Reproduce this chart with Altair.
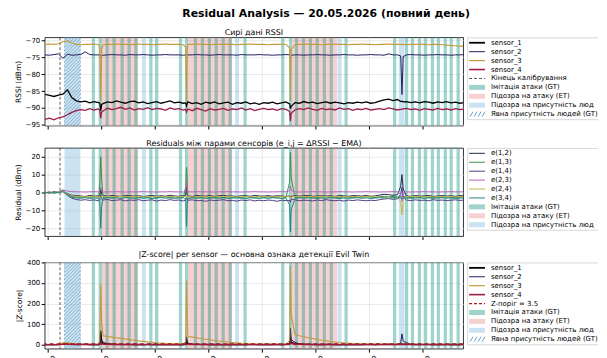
import altair as alt
import pandas as pd

FONT = "DejaVu Sans"

# ---------------- data ----------------
# samples every 15 min (hours after 00:00, 20.05.2026) + extra samples around the events
T_START, T_STEP = -0.15, 0.25
SPIKE_T = [2.92, 2.97, 3.02, 7.73, 7.78, 7.82, 13.56, 13.64, 19.78, 19.92]

SENSORS = ["sensor_1", "sensor_2", "sensor_3", "sensor_4"]
SENSOR_COLORS = ["#000000", "#241a5e", "#c49a3a", "#9b1d4a"]
SENSOR_WIDTHS = [1.3, 1.0, 1.1, 1.3]

RSSI = {
    "sensor_1": [
        -86.0, -86.3, -86.6, -86.2, -85.9, -84.6, -86.9, -87.9, -88.2, -88.0,
        -88.5, -88.1, -88.4, -88.7, -88.2, -88.4, -87.9, -88.3, -88.6, -88.1,
        -88.0, -88.5, -88.2, -88.7, -88.4, -88.1, -88.6, -88.3, -87.9, -88.5,
        -88.3, -88.6, -88.2, -88.7, -88.4, -88.9, -88.3, -88.6, -88.2, -88.8,
        -88.5, -88.3, -88.9, -88.4, -88.6, -88.2, -88.8, -88.5, -88.9, -88.4,
        -88.6, -88.3, -88.8, -88.5, -88.2, -90.2, -88.4, -88.6, -88.1, -88.5,
        -88.3, -88.7, -88.4, -88.2, -88.6, -88.3, -88.5, -88.8, -88.4, -88.6,
        -88.3, -88.5, -88.2, -88.6, -88.4, -88.0, -87.6, -87.4, -87.8, -87.5,
        -88.0, -88.1, -88.4, -88.2, -88.5, -88.1, -88.3, -88.6, -88.2, -88.4,
        -88.1, -88.5, -88.3, -88.6, -88.4],
    "sensor_2": [
        -74.3, -74.4, -74.2, -74.0, -75.3, -74.1, -74.4, -74.3, -74.2, -73.4,
        -74.2, -74.3, -74.3, -74.4, -74.3, -74.2, -74.3, -74.3, -74.4, -74.2,
        -74.3, -74.3, -74.2, -74.3, -74.4, -74.3, -74.3, -74.2, -74.3, -74.3,
        -74.3, -74.4, -74.3, -74.3, -74.2, -74.3, -74.3, -74.4, -74.3, -74.2,
        -74.3, -74.3, -74.3, -74.4, -74.2, -74.3, -74.3, -74.3, -74.2, -74.3,
        -74.3, -74.4, -74.3, -74.3, -74.2, -74.5, -74.3, -74.3, -74.4, -74.3,
        -74.3, -74.2, -74.3, -74.3, -74.4, -74.3, -74.3, -74.2, -74.3, -74.3,
        -74.4, -74.3, -74.3, -74.2, -74.3, -74.3, -74.4, -74.0, -74.3, -74.3,
        -86.0, -74.3, -74.2, -74.3, -74.3, -74.4, -74.3, -74.3, -74.2, -74.3,
        -74.3, -74.4, -74.3, -74.3, -74.2],
    "sensor_3": [
        -71.2, -71.1, -71.2, -71.0, -70.4, -70.2, -70.8, -71.2, -71.3, -71.2,
        -71.2, -71.1, -71.2, -71.3, -71.2, -71.2, -71.1, -71.2, -71.2, -71.3,
        -71.2, -71.1, -71.2, -71.2, -71.3, -71.2, -71.2, -71.1, -71.2, -71.2,
        -71.2, -71.3, -71.2, -71.2, -71.1, -71.2, -71.2, -71.3, -71.2, -71.2,
        -71.1, -71.2, -71.2, -71.3, -71.2, -71.2, -71.1, -71.2, -71.2, -71.2,
        -71.3, -71.2, -71.2, -71.1, -71.2, -88.0, -71.3, -71.2, -71.2, -71.1,
        -71.2, -71.2, -71.3, -71.2, -71.2, -71.1, -71.2, -71.2, -71.3, -71.2,
        -71.2, -71.1, -71.2, -71.2, -71.3, -71.2, -71.2, -71.1, -71.2, -71.2,
        -71.2, -71.3, -71.2, -71.2, -71.1, -71.2, -71.3, -71.2, -71.2, -71.3,
        -71.4, -71.5, -71.6, -71.7, -71.8],
    "sensor_4": [
        -93.4, -93.0, -93.5, -92.9, -92.6, -92.0, -91.3, -90.8, -90.5, -90.7,
        -90.2, -90.6, -90.3, -90.9, -90.1, -90.5, -90.2, -89.8, -90.4, -90.0,
        -90.6, -90.2, -90.4, -89.9, -90.5, -90.1, -90.3, -90.7, -90.0, -90.4,
        -90.2, -90.6, -90.3, -90.8, -90.1, -90.5, -90.9, -90.2, -90.6, -90.4,
        -90.1, -90.7, -90.3, -90.5, -90.0, -90.6, -90.2, -90.8, -90.4, -90.1,
        -90.5, -90.3, -90.7, -90.2, -90.4, -93.9, -90.6, -90.2, -90.5, -90.0,
        -90.4, -90.7, -90.1, -90.5, -90.3, -90.6, -90.0, -90.4, -90.2, -90.7,
        -90.3, -90.5, -90.1, -90.6, -90.4, -90.2, -90.5, -90.0, -90.3, -90.6,
        -90.4, -90.1, -90.5, -90.3, -90.7, -90.2, -90.4, -90.6, -90.1, -90.5,
        -90.3, -90.6, -90.2, -90.5, -90.3],
}
RSSI_SPIKE = {
    "sensor_1": [-88.6, -90.8, -89.0, -88.5, -89.4, -88.6, -88.8, -89.6, -88.1, -88.2],
    "sensor_2": [-74.3, -74.7, -74.4, -74.3, -74.5, -74.3, -74.3, -74.4, -74.6, -74.8],
    "sensor_3": [-72.0, -88.0, -72.6, -72.0, -88.3, -72.4, -72.2, -72.7, -71.2, -71.2],
    "sensor_4": [-90.8, -93.0, -91.2, -90.4, -91.2, -90.6, -91.0, -91.6, -90.4, -90.3],
}

PAIRS = ["e(1,2)", "e(1,3)", "e(1,4)", "e(2,3)", "e(2,4)", "e(3,4)"]
PAIR_COLORS = ["#1c2b4a", "#3f8f4a", "#4f3d7f", "#b565b5", "#c9b447", "#1f8585"]
PAIR_WIDTHS = [1.0, 1.0, 1.0, 1.0, 1.0, 1.0]

RES = {
    "e(1,2)": [
        0.2, -0.3, 0.4, 0.1, 0.9, -0.6, -1.5, -1.7, -1.9, -2.3,
        -1.6, -2.0, -1.8, -1.5, -2.1, -1.7, -1.9, -2.2, -1.6, -1.8,
        -2.0, -1.7, -2.2, -1.9, -1.6, -2.1, -1.8, -2.0, -1.5, -1.9,
        -2.1, -1.7, -1.8, -2.2, -1.6, -1.9, -2.0, -1.7, -2.1, -1.8,
        -1.6, -2.0, -1.9, -2.2, -1.7, -1.8, -2.1, -1.6, -1.9, -2.0,
        -1.7, -2.1, -1.8, -1.9, -2.2, -2.8, -1.7, -2.0, -1.8, -1.6,
        -2.1, -1.9, -1.7, -2.0, -1.8, -2.2, -1.6, -1.9, -2.1, -1.7,
        -1.8, -2.0, -1.6, -2.1, -1.9, -1.4, -1.0, -1.2, -1.5, -1.3,
        10.0, -1.9, -2.1, -1.7, -2.0, -1.8, -1.6, -2.2, -1.9, -1.7,
        -2.0, -1.8, -2.1, -1.7, -1.9],
    "e(1,3)": [
        -0.2, 0.3, -0.4, 0.2, 1.3, -1.0, -2.2, -2.5, -2.8, -2.4,
        -2.7, -2.3, -2.6, -2.9, -2.4, -2.8, -2.5, -2.2, -2.7, -2.6,
        -2.4, -2.9, -2.5, -2.7, -2.3, -2.8, -2.6, -2.4, -2.9, -2.5,
        -2.7, -2.6, -2.3, -2.8, -2.5, -2.7, -2.4, -2.9, -2.6, -2.5,
        -2.8, -2.4, -2.7, -2.5, -2.9, -2.3, -2.6, -2.8, -2.4, -2.7,
        -2.5, -2.8, -2.6, -2.4, -2.7, 22.5, -2.9, -2.5, -2.7, -2.4,
        -2.6, -2.8, -2.5, -2.3, -2.7, -2.6, -2.9, -2.4, -2.6, -2.8,
        -2.5, -2.7, -2.4, -2.6, -2.8, -2.3, -2.1, -2.4, -2.2, -2.5,
        -2.0, -2.6, -2.8, -2.5, -2.7, -2.4, -2.6, -2.9, -2.5, -2.7,
        -2.4, -2.6, -2.8, -2.5, -2.6],
    "e(1,4)": [
        0.1, -0.2, 0.3, -0.1, 0.6, -1.5, -3.2, -3.9, -4.3, -4.0,
        -4.4, -4.1, -4.6, -4.2, -3.9, -4.5, -4.3, -4.0, -4.7, -4.2,
        -4.4, -4.0, -4.6, -4.3, -4.1, -4.8, -4.2, -4.5, -4.0, -4.4,
        -4.2, -4.7, -4.3, -4.1, -4.6, -4.4, -4.9, -4.2, -4.5, -4.3,
        -4.0, -4.6, -4.4, -4.8, -4.2, -4.5, -4.1, -4.7, -4.3, -4.6,
        -4.2, -4.4, -4.9, -4.3, -4.5, -5.5, -4.1, -4.6, -4.3, -4.4,
        -4.7, -4.2, -4.5, -4.0, -4.4, -4.6, -4.3, -4.8, -4.2, -4.5,
        -4.1, -4.4, -4.6, -4.3, -4.5, -4.0, -3.6, -3.4, -3.8, -3.5,
        3.0, -4.2, -4.5, -4.1, -4.4, -4.3, -4.6, -4.0, -4.4, -4.2,
        -4.5, -4.3, -4.1, -4.4, -4.2],
    "e(2,3)": [
        -0.1, 0.2, 0.0, 0.3, 1.5, 0.8, 0.5, 0.4, 0.4, 0.3,
        0.4, 0.5, 0.4, 0.3, 0.4, 0.4, 0.5, 0.4, 0.3, 0.4,
        0.4, 0.4, 0.5, 0.4, 0.4, 0.3, 0.4, 0.4, 0.5, 0.4,
        0.4, 0.3, 0.4, 0.4, 0.5, 0.4, 0.4, 0.4, 0.3, 0.4,
        0.4, 0.5, 0.4, 0.4, 0.3, 0.4, 0.4, 0.5, 0.4, 0.4,
        0.3, 0.4, 0.4, 0.5, 0.4, 3.5, 0.4, 0.3, 0.4, 0.4,
        0.5, 0.4, 0.4, 0.3, 0.4, 0.4, 0.5, 0.4, 0.4, 0.3,
        0.4, 0.4, 0.5, 0.4, 0.4, 0.3, 0.4, 0.4, 0.5, 0.4,
        -5.0, 0.4, 0.3, 0.4, 0.4, 0.5, 0.4, 0.4, 0.3, 0.4,
        0.4, 0.5, 0.4, 0.4, 0.3],
    "e(2,4)": [
        0.1, -0.2, 0.2, 0.0, 0.8, -0.8, -1.8, -2.1, -2.3, -2.0,
        -2.3, -2.0, -2.4, -2.1, -2.2, -2.5, -2.0, -2.3, -2.1, -2.4,
        -2.2, -2.0, -2.5, -2.3, -2.1, -2.4, -2.2, -1.9, -2.3, -2.1,
        -2.4, -2.2, -2.0, -2.5, -2.3, -2.1, -2.4, -2.2, -2.0, -2.3,
        -2.1, -2.4, -2.2, -2.5, -2.0, -2.3, -2.1, -2.4, -2.2, -2.0,
        -2.3, -2.5, -2.1, -2.2, -2.4, -3.0, -2.2, -2.0, -2.3, -2.1,
        -2.4, -2.2, -2.0, -2.3, -2.5, -2.1, -2.2, -2.4, -2.0, -2.3,
        -2.1, -2.4, -2.2, -2.0, -2.3, -2.6, -3.0, -3.2, -2.8, -3.0,
        -12.5, -2.3, -2.1, -2.4, -2.2, -2.0, -2.3, -2.5, -2.1, -2.2,
        -2.4, -2.2, -2.0, -2.3, -2.1],
    "e(3,4)": [
        -0.2, 0.2, -0.3, 0.1, 0.5, -1.2, -2.6, -3.0, -3.2, -2.9,
        -3.3, -3.0, -3.2, -3.4, -2.9, -3.2, -3.0, -3.3, -2.8, -3.1,
        -3.3, -2.9, -3.2, -3.0, -3.4, -3.1, -2.8, -3.2, -3.0, -3.3,
        -3.1, -2.9, -3.4, -3.0, -3.2, -2.9, -3.3, -3.1, -3.0, -3.2,
        -2.9, -3.3, -3.1, -3.0, -3.2, -3.4, -2.9, -3.1, -3.3, -3.0,
        -3.2, -2.9, -3.1, -3.3, -3.0, -22.0, -3.4, -3.0, -3.2, -2.9,
        -3.1, -3.3, -3.0, -3.2, -2.9, -3.1, -3.4, -3.0, -3.2, -3.1,
        -2.9, -3.2, -3.0, -3.3, -3.1, -2.9, -3.0, -3.2, -2.9, -3.1,
        -3.5, -3.0, -3.2, -3.1, -2.9, -3.3, -3.0, -3.2, -3.1, -2.9,
        -3.2, -3.0, -3.3, -3.1, -3.0],
}
RES_SPIKE = {
    "e(1,2)": [-1.8, 2.0, -0.9, -1.6, 3.0, -1.2, -1.9, -2.2, 3.5, 2.0],
    "e(1,3)": [5.0, 20.0, 8.0, 3.0, 14.0, 6.0, 6.0, 9.0, -2.4, -2.2],
    "e(1,4)": [-4.0, -1.5, -3.5, -4.2, -2.5, -3.8, -4.4, -3.6, -1.0, -2.5],
    "e(2,3)": [0.8, 3.0, 1.0, 0.8, 6.0, 1.5, 1.0, 1.2, -1.0, -0.5],
    "e(2,4)": [-2.2, -3.0, -2.4, -2.1, -2.8, -2.3, -2.3, -2.6, -5.0, -4.0],
    "e(3,4)": [-6.0, -20.0, -8.0, -4.0, -19.0, -7.0, -7.0, -10.0, -3.0, -3.2],
}

ZSCORE = {
    "sensor_1": [
        0.5, 0.8, 0.6, 1.0, 2.5, 4.0, 3.0, 2.2, 1.8, 1.5,
        1.2, 1.6, 1.3, 9.0, 5.0, 3.5, 2.5, 2.0, 1.6, 1.4,
        1.2, 1.5, 1.1, 1.4, 1.3, 1.6, 1.2, 1.5, 1.3, 1.1,
        1.4, 1.2, 5.0, 3.0, 2.0, 1.6, 1.4, 1.2, 1.5, 1.3,
        1.1, 1.4, 1.2, 1.5, 1.3, 1.2, 1.6, 1.4, 1.1, 1.3,
        1.5, 1.2, 1.4, 1.3, 1.6, 40.0, 6.0, 3.5, 2.5, 1.8,
        1.5, 1.3, 1.2, 1.4, 1.6, 1.3, 1.1, 1.4, 1.2, 1.5,
        1.3, 1.2, 1.4, 1.6, 1.3, 1.5, 2.0, 2.4, 1.8, 1.6,
        5.0, 2.0, 1.5, 1.3, 1.2, 1.4, 1.6, 1.3, 1.5, 1.2,
        1.4, 1.3, 1.5, 1.2, 1.4],
    "sensor_2": [
        0.4, 0.6, 0.5, 1.5, 5.0, 1.5, 0.8, 0.6, 0.5, 3.0,
        0.8, 0.6, 0.5, 4.0, 2.0, 1.2, 0.8, 0.6, 0.5, 0.6,
        0.5, 0.6, 0.4, 0.5, 0.6, 0.5, 0.4, 0.6, 0.5, 0.5,
        0.6, 0.5, 8.0, 3.0, 1.5, 0.9, 0.7, 0.6, 0.5, 0.6,
        0.5, 0.4, 0.6, 0.5, 0.5, 0.6, 0.4, 0.5, 0.6, 0.5,
        0.5, 0.6, 0.4, 0.5, 0.6, 80.0, 12.0, 4.0, 2.0, 1.2,
        0.8, 0.6, 0.5, 0.6, 0.5, 0.4, 0.6, 0.5, 0.5, 0.6,
        0.5, 0.4, 0.6, 0.5, 0.5, 0.6, 0.7, 0.6, 0.5, 0.6,
        53.0, 10.0, 3.0, 1.5, 1.0, 0.8, 0.6, 0.5, 0.6, 0.5,
        0.5, 0.6, 0.4, 0.5, 0.6],
    "sensor_3": [
        0.5, 0.7, 0.6, 1.2, 9.0, 10.0, 6.0, 3.0, 2.0, 1.5,
        1.2, 1.0, 1.1, 44.0, 40.0, 37.0, 34.0, 31.0, 28.0, 25.0,
        22.0, 19.0, 16.5, 14.0, 12.0, 10.0, 8.5, 7.0, 6.0, 5.0,
        4.3, 3.8, 40.0, 37.0, 34.0, 30.0, 27.0, 24.0, 21.0, 18.0,
        15.5, 13.0, 11.0, 9.0, 7.5, 6.0, 5.0, 4.0, 3.3, 2.8,
        2.5, 2.2, 2.0, 1.8, 1.7, 385.0, 50.0, 44.0, 39.0, 34.0,
        30.0, 26.0, 22.0, 19.0, 16.0, 13.5, 11.0, 9.0, 7.5, 6.0,
        5.0, 4.2, 3.6, 3.1, 2.7, 2.4, 2.2, 2.0, 1.9, 1.8,
        2.5, 1.8, 1.7, 1.6, 1.5, 1.5, 1.4, 1.4, 1.3, 1.3,
        1.3, 1.2, 1.2, 1.2, 1.1],
    "sensor_4": [
        0.3, 0.5, 0.4, 0.8, 1.5, 2.0, 1.6, 1.2, 0.9, 0.7,
        0.6, 0.7, 0.5, 3.0, 1.5, 1.0, 0.8, 0.7, 0.6, 0.7,
        0.5, 0.6, 0.7, 0.5, 0.6, 0.8, 0.5, 0.6, 0.7, 0.5,
        0.6, 0.7, 1.5, 0.9, 0.7, 0.6, 0.5, 0.7, 0.6, 0.5,
        0.7, 0.6, 0.5, 0.8, 0.6, 0.5, 0.7, 0.6, 0.5, 0.6,
        0.7, 0.5, 0.6, 0.8, 0.6, 15.0, 3.0, 1.5, 1.0, 0.8,
        0.7, 0.6, 0.5, 0.7, 0.6, 0.8, 0.5, 0.6, 0.7, 0.5,
        0.6, 0.7, 0.5, 0.6, 0.8, 0.6, 0.5, 0.7, 0.6, 0.5,
        2.0, 0.8, 0.6, 0.7, 0.5, 0.6, 0.7, 0.5, 0.6, 0.8,
        0.6, 0.5, 0.7, 0.6, 0.5],
}
ZSCORE_SPIKE = {
    "sensor_1": [6.0, 68.0, 22.0, 3.0, 25.0, 8.0, 4.0, 12.0, 2.0, 3.0],
    "sensor_2": [2.0, 20.0, 8.0, 4.0, 38.0, 14.0, 6.0, 25.0, 8.0, 18.0],
    "sensor_3": [25.0, 292.0, 110.0, 15.0, 312.0, 120.0, 20.0, 150.0, 1.8, 1.8],
    "sensor_4": [1.5, 10.0, 4.0, 0.8, 3.0, 1.5, 2.0, 6.0, 0.8, 0.9],
}
Z_THRESHOLD = 3.5
CALIBRATION_END = 0.69

# marked intervals (hours)
GT_ATTACK_START = [2.47, 2.85, 3.24, 3.63, 4.08, 4.47, 4.85, 5.69, 6.02,
                   7.35, 7.69, 8.19, 8.58, 8.97, 9.35, 9.74, 10.13, 10.97,
                   13.08, 13.52, 13.85, 14.24, 14.63, 15.02, 15.41, 15.80, 16.63,
                   19.35, 20.02, 20.35, 20.74, 21.08, 21.47, 21.80, 22.19, 22.52, 22.91]
GT_ATTACK_END = [2.65, 3.03, 3.42, 3.81, 4.26, 4.65, 5.03, 5.87, 6.20,
                 7.53, 7.87, 8.37, 8.76, 9.15, 9.53, 9.92, 10.31, 11.15,
                 13.26, 13.70, 14.03, 14.42, 14.81, 15.20, 15.59, 15.98, 16.81,
                 19.53, 20.20, 20.53, 20.92, 21.26, 21.65, 21.98, 22.37, 22.70, 23.09]
ET_ATTACK_START = [3.03, 7.87, 13.70]
ET_ATTACK_END = [5.06, 10.33, 16.22]
ET_PRESENCE_START = [0.94, 5.28, 10.50, 16.25, 19.67]
ET_PRESENCE_END = [1.83, 5.50, 10.72, 16.47, 20.00]
GT_PRESENCE_START = [0.94]
GT_PRESENCE_END = [1.83]

XTICKS = [0, 3, 6, 9, 12, 15, 18, 21]

LBL_CAL = "Кінець калібрування"
LBL_GT = "Імітація атаки (GT)"
LBL_ET = "Підозра на атаку (ET)"
LBL_PR = "Підозра на присутність людей (ET)"
LBL_GTP = "Явна присутність людей (GT)"
LBL_Z = "Z-поріг = 3.5"

# ---------------- styling / layout ----------------
X_MIN, X_MAX = -0.17, 23.28
W = 422
H_RSSI, H_RES, H_Z = 89, 89, 87
LEG_RIGHT = 558          # legend box right edge, relative to the plot's left edge
GREEN, GREEN_OP = "#2a9d8f", 0.45
PINK, PINK_OP = "#e06666", 0.30
BLUE, BLUE_OP = "#6baed6", 0.35
HATCH = "#4682b4"
PXH = W / (X_MAX - X_MIN)


def long_table(names, colors, widths, base, spike):
    rows = []
    for name, col, w in zip(names, colors, widths):
        vals = base[name]
        assert len(vals) == 95, (name, len(vals))
        for i, v in enumerate(vals):
            rows.append({"t": round(T_START + T_STEP * i, 3), "v": v, "s": name, "c": col, "w": w})
        for t, v in zip(SPIKE_T, spike[name]):
            rows.append({"t": t, "v": v, "s": name, "c": col, "w": w})
    return pd.DataFrame(rows)


def hatch_segments(t0, t1, ydom, H, step=3.5):
    x0 = (t0 - X_MIN) * PXH
    x1 = (t1 - X_MIN) * PXH
    rows = []
    c = x0 - H
    while c < x1:
        xa, xb = max(x0, c), min(x1, c + H)
        if xb > xa:
            ya, yb = xa - c, xb - c
            rows.append({
                "t": X_MIN + xa / PXH, "t2": X_MIN + xb / PXH,
                "v": ydom[0] + ya / H * (ydom[1] - ydom[0]),
                "v2": ydom[0] + yb / H * (ydom[1] - ydom[0]),
            })
        c += step
    return pd.DataFrame(rows)


def legend_layer(entries, H):
    n = len(entries)
    d0 = -5.5 / 9
    ys = alt.Scale(domain=[d0, d0 + H / 9], reverse=True, nice=False, zero=False)
    xs = alt.Scale(domain=[0, W], nice=False, zero=False)
    rows = []
    for k, (label, kind, color, width) in enumerate(entries):
        op = width if kind == "patch" else 1
        rows.append({"k": k, "k0": k - 0.28, "k1": k + 0.28, "label": label, "kind": kind,
                     "color": color, "w": width if kind in ("line", "dash") else 1, "op": op,
                     "x0": 428, "x1": 444, "xt": 450})
    df = pd.DataFrame(rows)
    top, bot = -0.55, n - 1 + 0.62
    box = pd.DataFrame({"x": [426.5], "x2": [LEG_RIGHT], "k": [top], "k2": [bot]})
    edges = pd.DataFrame({"x": [426.5, 426.5, 426.5], "x2": [426.5, LEG_RIGHT, LEG_RIGHT],
                          "k": [top, top, bot], "k2": [bot, top, bot]})

    X = lambda f: alt.X(f, scale=xs, axis=None)
    Y = lambda f: alt.Y(f, scale=ys, axis=None)
    layers = [
        alt.Chart(box).mark_rect(fill="white")
        .encode(x=X("x:Q"), x2="x2:Q", y=Y("k:Q"), y2="k2:Q"),
        alt.Chart(edges).mark_rule(color="#cccccc", strokeWidth=0.8)
        .encode(x=X("x:Q"), x2="x2:Q", y=Y("k:Q"), y2="k2:Q"),
        alt.Chart(df).transform_filter("datum.kind == 'patch'").mark_rect()
        .encode(x=X("x0:Q"), x2="x1:Q", y=Y("k0:Q"), y2="k1:Q",
                color=alt.Color("color:N", scale=None), opacity=alt.Opacity("op:Q", scale=None)),
        alt.Chart(df).transform_filter("datum.kind == 'line'").mark_rule()
        .encode(x=X("x0:Q"), x2="x1:Q", y=Y("k:Q"),
                color=alt.Color("color:N", scale=None), strokeWidth=alt.StrokeWidth("w:Q", scale=None)),
        alt.Chart(df).transform_filter("datum.kind == 'dash'").mark_rule(strokeDash=[3, 2])
        .encode(x=X("x0:Q"), x2="x1:Q", y=Y("k:Q"),
                color=alt.Color("color:N", scale=None), strokeWidth=alt.StrokeWidth("w:Q", scale=None)),
    ]
    hat = []
    for r in rows:
        if r["kind"] == "hatch":
            for xs0 in [429, 433, 437, 441]:
                hat.append({"x": xs0, "x2": xs0 + 3, "k": r["k"] + 0.28, "k2": r["k"] - 0.28})
    if hat:
        layers.append(alt.Chart(pd.DataFrame(hat)).mark_rule(color=HATCH, strokeWidth=0.8)
                      .encode(x=X("x:Q"), x2="x2:Q", y=Y("k:Q"), y2="k2:Q"))
    layers.append(
        alt.Chart(df).mark_text(align="left", baseline="middle", fontSize=7, font=FONT, color="black",
                                limit=LEG_RIGHT - 450, ellipsis=" ")
        .encode(x=X("xt:Q"), y=Y("k:Q"), text="label:N"))
    return alt.layer(*layers)


def panel(lines_df, ydom, yticks, ytitle, H, title, hatch, threshold, entries, bottom):
    xs = alt.Scale(domain=[X_MIN, X_MAX], nice=False, zero=False)
    ys = alt.Scale(domain=ydom, nice=False, zero=False)
    if bottom:
        xaxis = alt.Axis(values=XTICKS, title=None, grid=True,
                         labelExpr="(datum.value < 10 ? '0' : '') + datum.value + ':00'",
                         labelAngle=-45, labelAlign="right", labelBaseline="top", labelOffset=4)
    else:
        xaxis = alt.Axis(values=XTICKS, title=None, grid=True, labels=False)
    yaxis = alt.Axis(values=yticks, title=ytitle, grid=True)

    def X(f):
        return alt.X(f, scale=xs, axis=xaxis)

    def Y(f):
        return alt.Y(f, scale=ys, axis=yaxis)

    pink = pd.DataFrame({"a": ET_ATTACK_START, "b": ET_ATTACK_END})
    blue = pd.DataFrame({"a": ET_PRESENCE_START, "b": ET_PRESENCE_END})
    green = pd.DataFrame({"a": GT_ATTACK_START, "b": GT_ATTACK_END})
    layers = [
        alt.Chart(pink).mark_rect(color=PINK, opacity=PINK_OP).encode(x=X("a:Q"), x2="b:Q"),
        alt.Chart(blue).mark_rect(color=BLUE, opacity=BLUE_OP).encode(x=X("a:Q"), x2="b:Q"),
        alt.Chart(green).mark_rect(color=GREEN, opacity=GREEN_OP).encode(x=X("a:Q"), x2="b:Q"),
    ]
    if hatch:
        segs = pd.concat([hatch_segments(a, b, ydom, H) for a, b in zip(GT_PRESENCE_START, GT_PRESENCE_END)])
        edges = pd.DataFrame({"a": GT_PRESENCE_START + GT_PRESENCE_END})
        layers.append(alt.Chart(segs).mark_rule(color=HATCH, strokeWidth=0.7, opacity=0.75)
                      .encode(x=X("t:Q"), x2="t2:Q", y=Y("v:Q"), y2="v2:Q"))
        layers.append(alt.Chart(edges).mark_rule(color=HATCH, strokeWidth=0.7, opacity=0.6, strokeDash=[2, 2])
                      .encode(x=X("a:Q")))
    layers.append(alt.Chart(pd.DataFrame({"a": [CALIBRATION_END]}))
                  .mark_rule(color="#333333", strokeWidth=0.8, strokeDash=[3, 2]).encode(x=X("a:Q")))
    layers.append(alt.Chart(lines_df).mark_line(clip=True)
                  .encode(x=X("t:Q"), y=Y("v:Q"), detail="s:N",
                          color=alt.Color("c:N", scale=None),
                          strokeWidth=alt.StrokeWidth("w:Q", scale=None)))
    if threshold:
        layers.append(alt.Chart(pd.DataFrame({"z": [Z_THRESHOLD]}))
                      .mark_rule(color="#b01515", strokeWidth=1.5, strokeDash=[4, 3]).encode(y=Y("z:Q")))
    main = alt.layer(*layers)
    leg = legend_layer(entries, H)
    return (alt.layer(main, leg)
            .resolve_scale(x="independent", y="independent")
            .properties(width=W, height=H,
                        title=alt.TitleParams(title, fontSize=8, anchor="middle", frame="group", offset=-1)))


rssi_df = long_table(SENSORS, SENSOR_COLORS, SENSOR_WIDTHS, RSSI, RSSI_SPIKE)
res_df = long_table(PAIRS, PAIR_COLORS, PAIR_WIDTHS, RES, RES_SPIKE)
z_df = long_table(SENSORS, SENSOR_COLORS, SENSOR_WIDTHS, ZSCORE, ZSCORE_SPIKE)

sensor_entries = [(s, "line", c, w) for s, c, w in zip(SENSORS, SENSOR_COLORS, [1.8, 1.0, 1.2, 1.6])]
band_entries = [(LBL_GT, "patch", GREEN, GREEN_OP), (LBL_ET, "patch", PINK, PINK_OP), (LBL_PR, "patch", BLUE, BLUE_OP)]

ent_rssi = sensor_entries + [(LBL_CAL, "dash", "#444444", 0.9)] + band_entries + [(LBL_GTP, "hatch", HATCH, 1)]
ent_res = [(p, "line", c, 1.0) for p, c in zip(PAIRS, PAIR_COLORS)] + band_entries
ent_z = sensor_entries + [(LBL_Z, "dash", "#b01515", 1.3)] + band_entries + [(LBL_GTP, "hatch", HATCH, 1)]

p1 = panel(rssi_df, [-95.2, -69.1], [-95, -90, -85, -80, -75, -70], "RSSI (dBm)", H_RSSI,
           "Сирі дані RSSI", True, False, ent_rssi, False)
p2 = panel(res_df, [-24.4, 25], [-20, -10, 0, 10, 20], "Residual (dBm)", H_RES,
           "Residuals між парами сенсорів (e_i,j = ΔRSSI − EMA)", False, False, ent_res, False)
p3 = panel(z_df, [-19, 400], [0, 100, 200, 300, 400], "|Z-score|", H_Z,
           "|Z-score| per sensor — основна ознака детекції Evil Twin", True, True, ent_z, True)

chart = (
    alt.vconcat(p1, p2, p3, spacing=9.5,
                title=alt.TitleParams("Residual Analysis — 20.05.2026 (повний день)", fontSize=11,
                                      fontWeight="bold", anchor="middle", offset=5, dx=20, dy=-5))
    .resolve_scale(x="independent", y="independent")
    .properties(padding={"left": 5, "top": -2, "right": 0, "bottom": 0})
    .configure(font=FONT)
    .configure_axis(labelFontSize=7, titleFontSize=7.5, titleFontWeight="normal", tickSize=3.5,
                    tickColor="black", labelColor="black", titleColor="black", domain=False,
                    gridColor="#e4e4e4", gridWidth=0.8, labelPadding=1.5, titlePadding=3)
    .configure_view(stroke="black", strokeWidth=0.8)
    .configure_title(fontSize=8, fontWeight="normal", color="black")
)

chart.save("out.html", embed_options={"renderer": "svg", "actions": False})
